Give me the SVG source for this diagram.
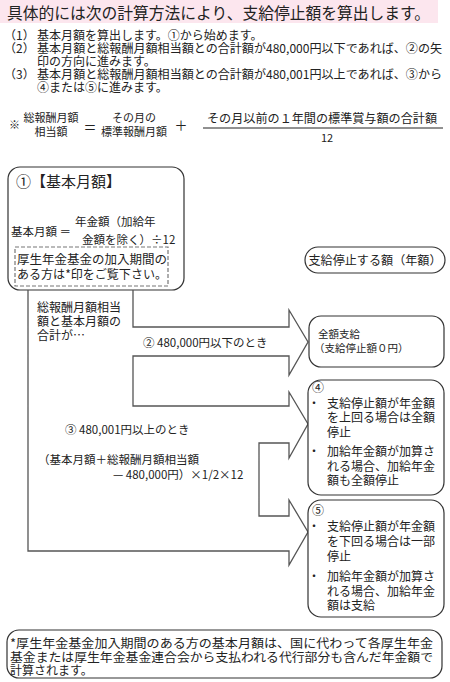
<svg xmlns="http://www.w3.org/2000/svg" width="450" height="682" viewBox="0 0 450 682">
<style>
text{font-family:"Noto Sans CJK JP","Noto Sans",sans-serif;fill:#222;font-size:12px}
.box{fill:#fff;stroke:#333;stroke-width:1.2}
.f11{font-size:11px}
.f115{font-size:11.5px}
.conn{fill:none;stroke:#555;stroke-width:1.3;stroke-linejoin:miter}
</style>
<rect width="450" height="682" fill="#fff"/>
<g id="header">
<rect x="0" y="0" width="438" height="23" fill="#fce6ee"/>
<text x="7" y="19" style="font-size:16px" textLength="423" lengthAdjust="spacingAndGlyphs">具体的には次の計算方法により、支給停止額を算出します。</text>
<text x="4" y="40">（1）</text><text x="37" y="40">基本月額を算出します。①から始めます。</text>
<text x="4" y="53">（2）</text><text x="37" y="53" textLength="405" lengthAdjust="spacingAndGlyphs">基本月額と総報酬月額相当額との合計額が480,000円以下であれば、②の矢</text>
<text x="37" y="66">印の方向に進みます。</text>
<text x="4" y="79">（3）</text><text x="37" y="79" textLength="405" lengthAdjust="spacingAndGlyphs">基本月額と総報酬月額相当額との合計額が480,001円以上であれば、③から</text>
<text x="37" y="92">④または⑤に進みます。</text>
</g>
<g id="formula">
<text x="9" y="129" class="f11">※</text>
<text x="51" y="122" class="f11" text-anchor="middle">総報酬月額</text>
<text x="51" y="136" class="f11" text-anchor="middle">相当額</text>
<text x="90" y="132" style="font-size:13px" text-anchor="middle">＝</text>
<text x="134" y="122" class="f11" text-anchor="middle">その月の</text>
<text x="134" y="136" class="f11" text-anchor="middle">標準報酬月額</text>
<text x="181" y="130" style="font-size:13px" text-anchor="middle">＋</text>
<text x="322" y="122.5" text-anchor="middle" textLength="230" lengthAdjust="spacingAndGlyphs">その月以前の１年間の標準賞与額の合計額</text>
<line x1="203" y1="128" x2="443" y2="128" stroke="#222" stroke-width="1"/>
<text x="327" y="142" class="f11" text-anchor="middle">12</text>
</g>
<g id="node-basic">
<rect class="box" x="8" y="167" width="176" height="123" rx="12"/>
<text x="16" y="187" style="font-size:15px">①【基本月額】</text>
<text x="11" y="236" class="f115">基本月額 ＝</text>
<text x="75" y="226" class="f115">年金額（加給年</text>
<text x="82" y="244" class="f115">金額を除く）÷12</text>
<rect x="15" y="247" width="153" height="39" fill="none" stroke="#777" stroke-width="1.2" stroke-dasharray="4,2"/>
<text x="17" y="264" textLength="150" lengthAdjust="spacingAndGlyphs">厚生年金基金の加入期間の</text>
<text x="17" y="279" textLength="150" lengthAdjust="spacingAndGlyphs">ある方は*印をご覧下さい。</text>
</g>
<g id="node-stop-label">
<rect class="box" x="305" y="247" width="140" height="26" rx="13"/>
<text x="375" y="264.5" text-anchor="middle" textLength="133" lengthAdjust="spacingAndGlyphs">支給停止する額（年額）</text>
</g>
<g id="connectors">
<path class="conn" d="M28,290 V551 H289 V565 L308,532 L289,500 V516 H259 V443 H289 V458 L308,424 L289,392 V406 H133 V356 H289 V375 L308,342 L289,310 V327 H133 V290"/>
<text x="37" y="311.5">総報酬月額相当</text>
<text x="37" y="326">額と基本月額の</text>
<text x="37" y="340">合計が…</text>
<text x="143" y="346.5" class="f115">② 480,000円以下のとき</text>
<text x="65" y="434" class="f115">③ 480,001円以上のとき</text>
<text x="38" y="464" class="f115">（基本月額＋総報酬月額相当額</text>
<text x="113" y="479" class="f115">— 480,000円）×1/2×12</text>
</g>
<g id="node-2">
<rect class="box" x="309" y="316" width="135" height="51" rx="12"/>
<text x="318" y="338" style="font-size:10.5px">全額支給</text>
<text x="314" y="352" style="font-size:10.5px">（支給停止額０円）</text>
</g>
<g id="node-4">
<rect class="box" x="308" y="380" width="136" height="115" rx="13"/>
<text x="312" y="392">④</text>
<text x="308" y="407.5">・</text><text x="327" y="407.5">支給停止額が年金額</text>
<text x="327" y="422">を上回る場合は全額</text>
<text x="327" y="436.5">停止</text>
<text x="308" y="456">・</text><text x="327" y="456">加給年金額が加算さ</text>
<text x="327" y="470.5">れる場合、加給年金</text>
<text x="327" y="485">額も全額停止</text>
</g>
<g id="node-5">
<rect class="box" x="308" y="500" width="136" height="117" rx="13"/>
<text x="312" y="514.5">⑤</text>
<text x="308" y="531">・</text><text x="327" y="531">支給停止額が年金額</text>
<text x="327" y="546">を下回る場合は一部</text>
<text x="327" y="561">停止</text>
<text x="308" y="581">・</text><text x="327" y="581">加給年金額が加算さ</text>
<text x="327" y="596">れる場合、加給年金</text>
<text x="327" y="610">額は支給</text>
</g>
<g id="node-footnote">
<rect class="box" x="7" y="630" width="435" height="48" rx="12"/>
<text x="10" y="647.5" textLength="423" lengthAdjust="spacingAndGlyphs">*厚生年金基金加入期間のある方の基本月額は、国に代わって各厚生年金</text>
<text x="10" y="661.5" textLength="423" lengthAdjust="spacingAndGlyphs">基金または厚生年金基金連合会から支払われる代行部分も含んだ年金額で</text>
<text x="10" y="674.5">計算されます。</text>
</g>
</svg>
